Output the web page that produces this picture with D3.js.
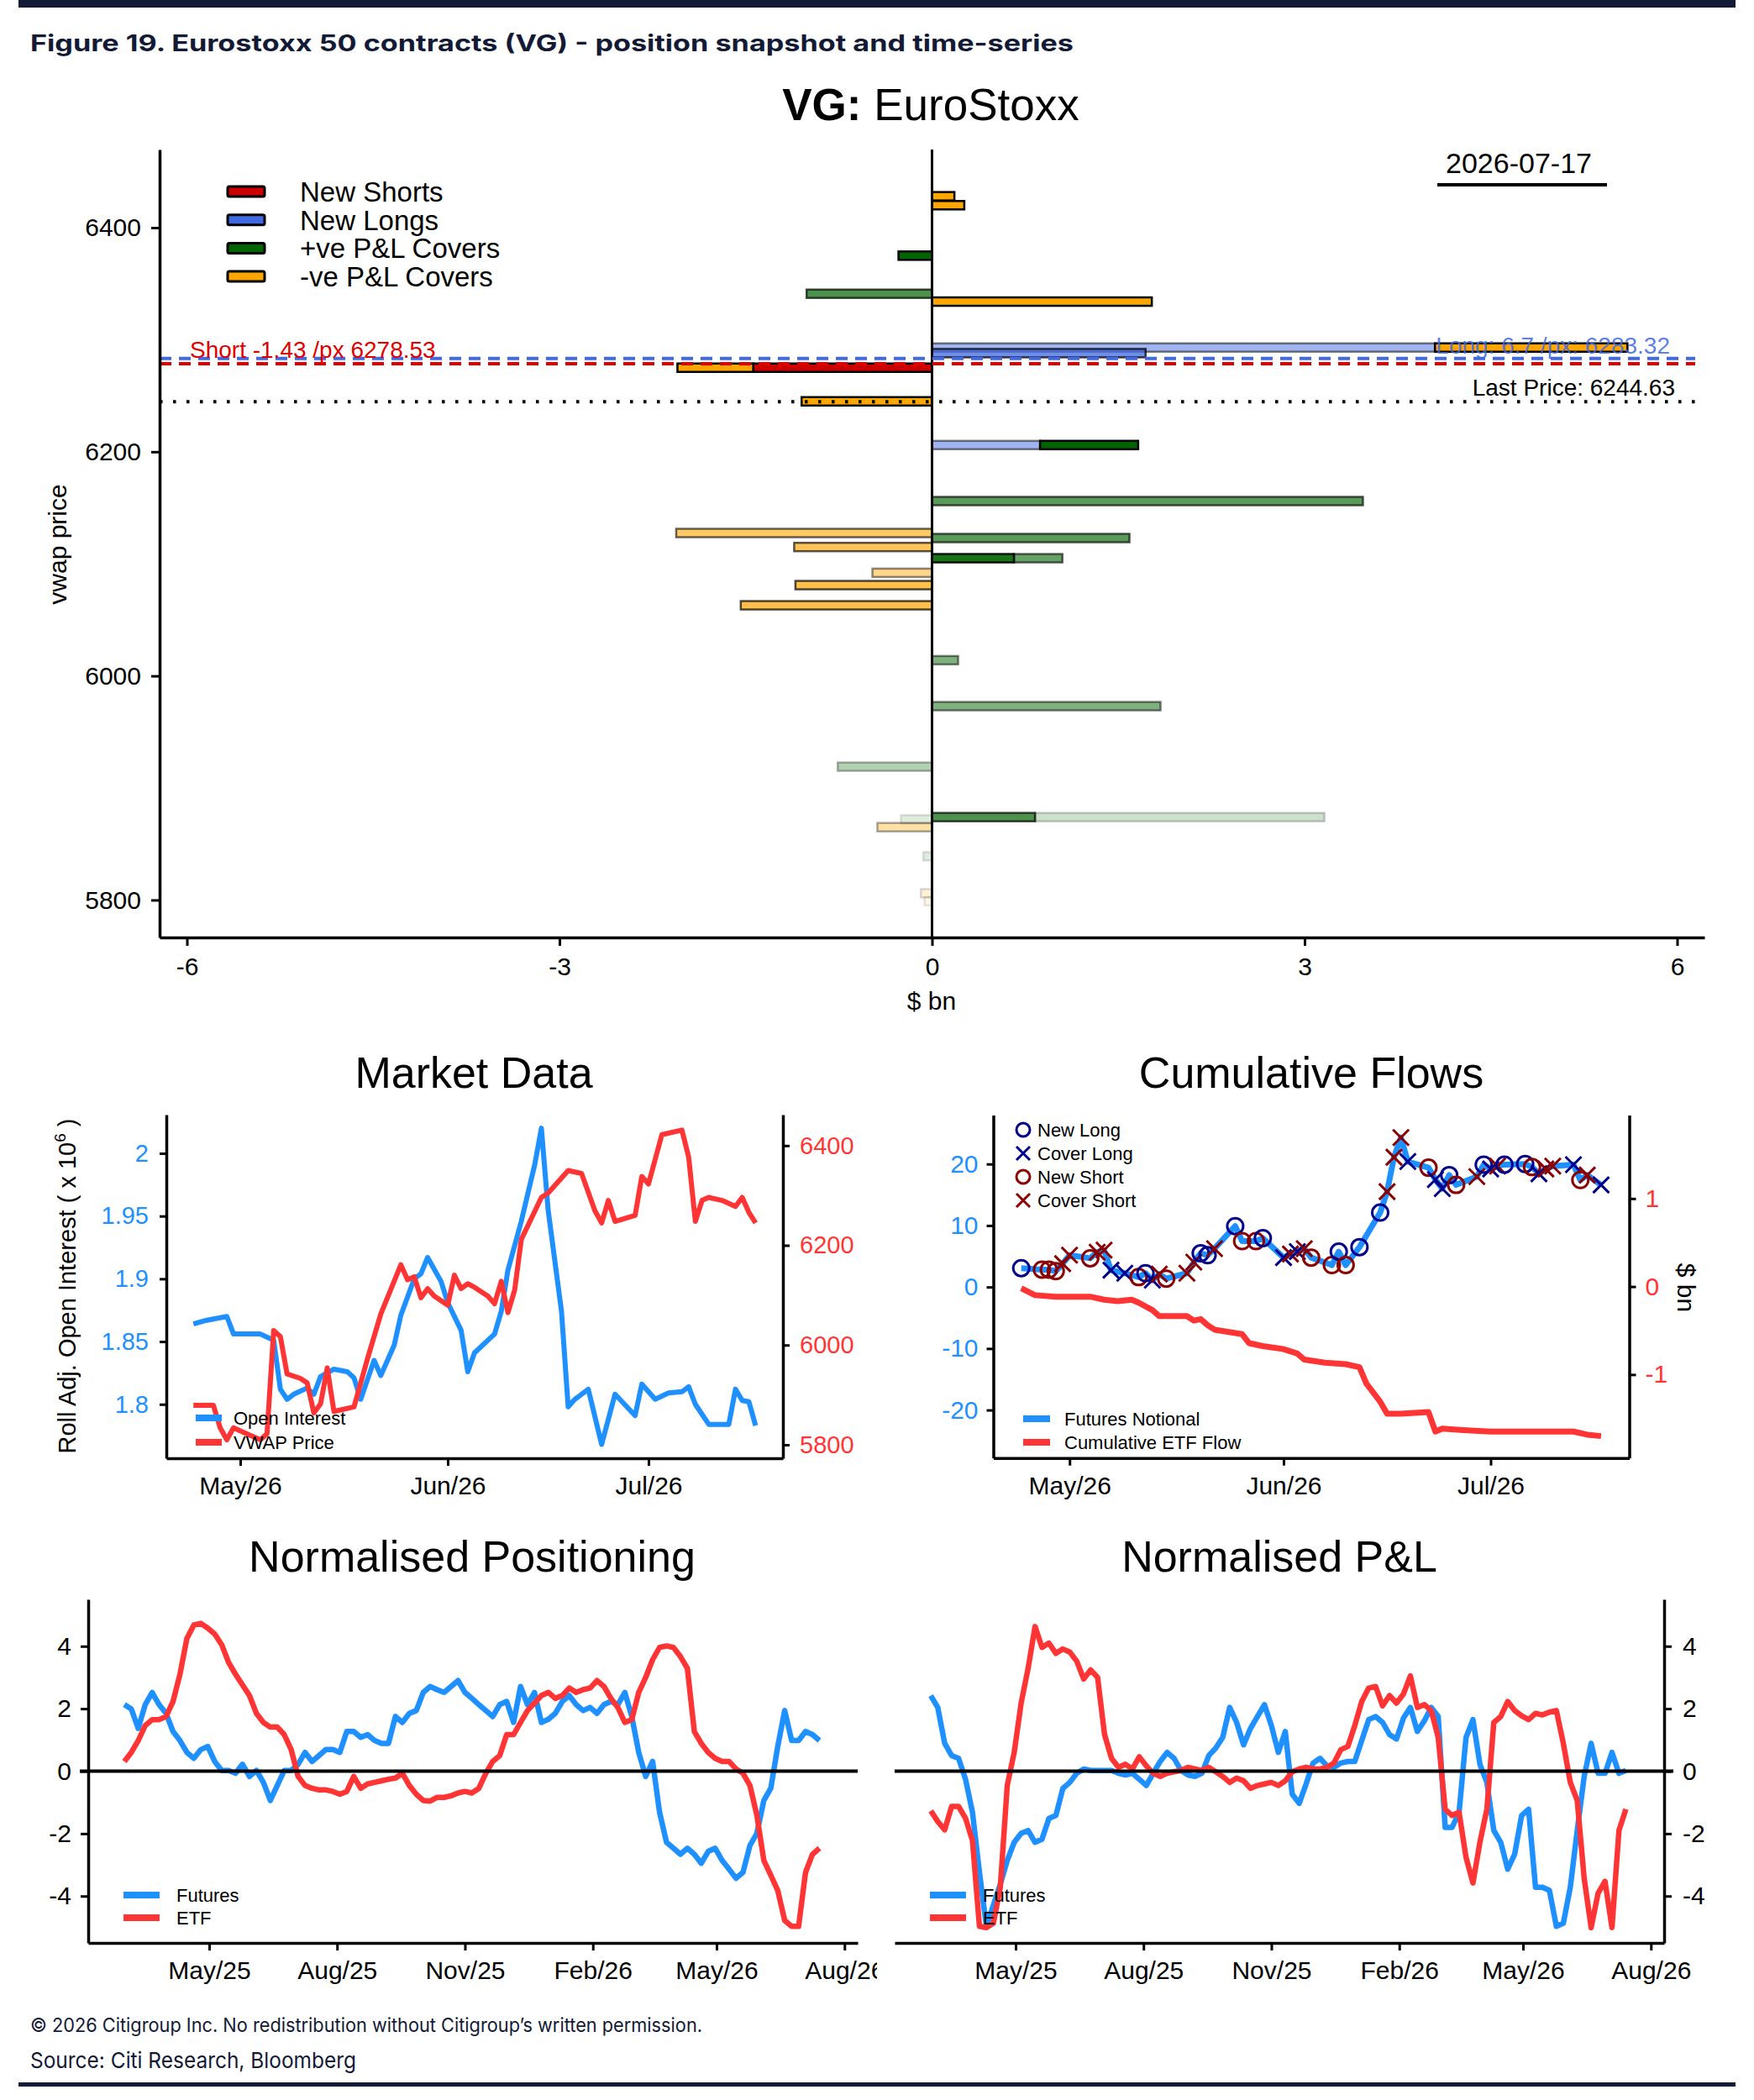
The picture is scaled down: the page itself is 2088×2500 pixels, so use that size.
<!DOCTYPE html>
<html>
<head>
<meta charset="utf-8">
<script src="https://cdn.jsdelivr.net/npm/d3@7"></script>
<style>
  body { margin: 0; background: #fff; }
  svg { display: block; }
</style>
</head>
<body>
<svg id="chart" width="2088" height="2500"></svg>
<script>
// ---- snapshot bars (price level, type, $bn, opacity) ----
const barPrice = [6428, 6420, 6375, 6341, 6334, 6293, 6293, 6288, 6275, 6275, 6245, 6206, 6206, 6156, 6127.5, 6123, 6115, 6105, 6105, 6092, 6081, 6063, 6014, 5973, 5919, 5874, 5874, 5872, 5865, 5839, 5806, 5799];
const barType = ['NC','NC','PC','PC','NC','NL','NC','NL','NS','NC','NC','NL','PC','PC','NC','PC','NC','PC','PC','NC','NC','NC','PC','PC','PC','PC','PC','PC','NC','PC','NC','NC'];
const barValue = [0.18, 0.26, -0.27, -1.01, 1.77, 4.05, 1.55, 1.72, -1.44, -0.61, -1.05, 0.87, 0.79, 3.47, -2.06, 1.59, -1.11, 0.66, 0.39, -0.48, -1.1, -1.54, 0.21, 1.84, -0.76, 0.83, 2.33, -0.25, -0.44, -0.07, -0.09, -0.06];
const barAlpha = [1, 1, 1, 0.7, 1, 0.5, 1, 0.75, 1, 1, 1, 0.5, 1, 0.65, 0.6, 0.65, 0.65, 0.9, 0.6, 0.45, 0.7, 0.7, 0.5, 0.5, 0.3, 0.7, 0.2, 0.12, 0.35, 0.12, 0.15, 0.1];
const typeKeys = ['NS', 'NL', 'PC', 'NC'];
const typeLabels = ['New Shorts', 'New Longs', '+ve P&L Covers', '-ve P&L Covers'];
const typeColors = ['#CD0000', '#4169E1', '#006400', '#FFA500'];
const snapTicksX = [-6, -3, 0, 3, 6];
const snapTicksY = [5800, 6000, 6200, 6400];
const shortLevel = { price: 6278.53, text: 'Short -1.43 /px 6278.53' };
const longLevel = { price: 6283.32, text: 'Long: 6.7 /px: 6283.32' };
const lastPrice = 6244.63;
const snapDate = '2026-07-17';

// ---- market data ----
const oiDates = ['2026-04-24','2026-04-26','2026-04-28','2026-04-29','2026-04-30','2026-05-01','2026-05-04','2026-05-06','2026-05-07','2026-05-08','2026-05-09','2026-05-11','2026-05-12','2026-05-13','2026-05-15','2026-05-17','2026-05-18','2026-05-19','2026-05-21','2026-05-22','2026-05-24','2026-05-25','2026-05-27','2026-05-28','2026-05-29','2026-05-31','2026-06-01','2026-06-03','2026-06-04','2026-06-05','2026-06-08','2026-06-09','2026-06-10','2026-06-12','2026-06-14','2026-06-15','2026-06-16','2026-06-18','2026-06-19','2026-06-20','2026-06-22','2026-06-24','2026-06-26','2026-06-29','2026-06-30','2026-07-02','2026-07-04','2026-07-06','2026-07-07','2026-07-08','2026-07-10','2026-07-13','2026-07-14','2026-07-15','2026-07-16','2026-07-17'];
const oiValues = [1.864, 1.867, 1.869, 1.870, 1.856, 1.856, 1.856, 1.851, 1.812, 1.804, 1.808, 1.813, 1.808, 1.822, 1.828, 1.826, 1.821, 1.804, 1.835, 1.823, 1.847, 1.871, 1.900, 1.904, 1.917, 1.898, 1.881, 1.859, 1.826, 1.841, 1.856, 1.874, 1.907, 1.946, 1.991, 2.020, 1.955, 1.874, 1.798, 1.804, 1.812, 1.768, 1.808, 1.791, 1.816, 1.804, 1.809, 1.810, 1.814, 1.800, 1.784, 1.784, 1.812, 1.803, 1.802, 1.783];
const vwapDates = ['2026-04-24','2026-04-27','2026-04-28','2026-04-29','2026-04-30','2026-05-02','2026-05-04','2026-05-05','2026-05-06','2026-05-07','2026-05-08','2026-05-10','2026-05-11','2026-05-12','2026-05-13','2026-05-14','2026-05-15','2026-05-18','2026-05-20','2026-05-22','2026-05-25','2026-05-26','2026-05-27','2026-05-28','2026-05-29','2026-05-30','2026-06-01','2026-06-02','2026-06-03','2026-06-04','2026-06-05','2026-06-07','2026-06-08','2026-06-09','2026-06-10','2026-06-11','2026-06-12','2026-06-15','2026-06-16','2026-06-19','2026-06-21','2026-06-23','2026-06-24','2026-06-25','2026-06-26','2026-06-29','2026-06-30','2026-07-01','2026-07-03','2026-07-06','2026-07-07','2026-07-08','2026-07-09','2026-07-10','2026-07-12','2026-07-14','2026-07-15','2026-07-16','2026-07-17'];
const vwapValues = [5879, 5879, 5834, 5810, 5834, 5822, 5810, 5822, 6029, 6017, 5942, 5933, 5924, 5864, 5882, 5954, 5867, 5876, 5972, 6062, 6161, 6131, 6137, 6095, 6113, 6098, 6080, 6140, 6113, 6123, 6116, 6098, 6083, 6128, 6065, 6110, 6212, 6296, 6305, 6350, 6344, 6269, 6245, 6290, 6248, 6260, 6338, 6323, 6422, 6431, 6377, 6248, 6290, 6296, 6290, 6278, 6296, 6266, 6245];
const oiTicks = [1.8, 1.85, 1.9, 1.95, 2];
const vwapTicks = [5800, 6000, 6200, 6400];

// ---- cumulative flows ----
const cfDates = ['2026-04-24','2026-04-27','2026-04-28','2026-04-29','2026-04-30','2026-05-01','2026-05-04','2026-05-05','2026-05-06','2026-05-07','2026-05-09','2026-05-11','2026-05-12','2026-05-13','2026-05-14','2026-05-15','2026-05-18','2026-05-19','2026-05-20','2026-05-21','2026-05-22','2026-05-25','2026-05-26','2026-05-28','2026-05-29','2026-06-01','2026-06-02','2026-06-03','2026-06-04','2026-06-05','2026-06-08','2026-06-09','2026-06-10','2026-06-12','2026-06-15','2026-06-16','2026-06-17','2026-06-18','2026-06-19','2026-06-22','2026-06-23','2026-06-24','2026-06-25','2026-06-26','2026-06-29','2026-06-30','2026-07-01','2026-07-02','2026-07-03','2026-07-06','2026-07-07','2026-07-08','2026-07-09','2026-07-10','2026-07-13','2026-07-14','2026-07-15','2026-07-17'];
const cfValues = [3.07, 2.83, 2.83, 2.58, 3.8, 5.17, 4.68, 5.66, 6.0, 2.73, 2.24, 1.61, 2.24, 1.12, 2.1, 1.36, 2.24, 4.05, 5.5, 5.17, 6.24, 9.9, 7.46, 7.46, 7.95, 4.78, 5.36, 5.75, 6.24, 4.78, 3.56, 5.75, 3.56, 6.49, 12.1, 15.5, 21.1, 24.3, 20.4, 19.4, 17.46, 16.0, 18.2, 16.6, 17.95, 19.9, 19.2, 19.66, 19.9, 20.0, 19.5, 18.4, 19.2, 19.66, 19.9, 17.4, 18.2, 16.6];
const cfTypes = ['NL','NS','NS','NS','CS','CS','NS','CS','CS','CL','CL','NS','NL','CL','CS','NS','CS','CS','NL','NL','CS','NL','NS','NS','NL','CL','CS','CL','CS','NS','NS','NL','NS','NL','NL','CS','CS','CS','CL','NS','CL','CL','NL','NS','CS','NL','CL','CS','NL','NL','NS','CL','CS','CS','CL','NS','CS','CL'];
const etfDates = ['2026-04-24','2026-04-26','2026-04-29','2026-05-04','2026-05-06','2026-05-08','2026-05-10','2026-05-11','2026-05-13','2026-05-14','2026-05-18','2026-05-19','2026-05-20','2026-05-21','2026-05-22','2026-05-26','2026-05-27','2026-05-29','2026-06-01','2026-06-03','2026-06-04','2026-06-07','2026-06-10','2026-06-12','2026-06-13','2026-06-15','2026-06-16','2026-06-18','2026-06-22','2026-06-23','2026-06-24','2026-06-27','2026-07-01','2026-07-08','2026-07-13','2026-07-15','2026-07-17'];
const etfValues = [-0.02, -0.098, -0.115, -0.115, -0.149, -0.166, -0.149, -0.183, -0.268, -0.336, -0.336, -0.387, -0.37, -0.439, -0.49, -0.541, -0.643, -0.677, -0.711, -0.762, -0.83, -0.865, -0.882, -0.916, -1.103, -1.308, -1.444, -1.444, -1.427, -1.648, -1.614, -1.631, -1.648, -1.648, -1.648, -1.683, -1.699];
const markerKeys = ['NL', 'CL', 'NS', 'CS'];
const markerLabels = ['New Long', 'Cover Long', 'New Short', 'Cover Short'];
const cfTicks = [-20, -10, 0, 10, 20];
const etfTicks = [-1, 0, 1];

// ---- normalised series: one value every 5 days from 2025-03-01 ----
const normStart = '2025-03-01';
const posFut = [2.13, 1.99, 1.37, 2.13, 2.52, 2.13, 1.85, 1.27, 0.98, 0.6, 0.41, 0.69, 0.79, 0.31, 0.02, 0.02, -0.07, 0.22, -0.17, 0.02, -0.36, -0.94, -0.46, 0.02, 0.02, 0.22, 0.6, 0.31, 0.5, 0.69, 0.69, 0.6, 1.27, 1.27, 1.08, 1.17, 0.98, 0.89, 0.89, 1.75, 1.56, 1.85, 1.94, 2.52, 2.71, 2.61, 2.52, 2.71, 2.9, 2.52, 2.33, 2.13, 1.94, 1.75, 2.13, 2.23, 1.56, 2.71, 2.13, 2.52, 1.56, 1.66, 1.85, 2.23, 2.42, 2.13, 1.94, 2.04, 1.85, 2.13, 2.23, 2.13, 2.52, 1.75, 0.6, -0.17, 0.31, -1.32, -2.28, -2.47, -2.66, -2.47, -2.66, -2.95, -2.57, -2.47, -2.86, -3.14, -3.43, -3.24, -2.38, -1.99, -0.94, -0.55, 0.79, 1.94, 0.98, 0.98, 1.27, 1.17, 0.98];
const posEtf = [0.31, 0.6, 0.98, 1.46, 1.65, 1.65, 1.75, 2.23, 3.1, 4.25, 4.68, 4.73, 4.58, 4.39, 4.05, 3.48, 3.1, 2.76, 2.42, 1.85, 1.56, 1.41, 1.41, 1.17, 0.69, -0.17, -0.46, -0.55, -0.6, -0.6, -0.65, -0.74, -0.65, -0.17, -0.55, -0.41, -0.36, -0.31, -0.26, -0.22, -0.07, -0.46, -0.74, -0.94, -0.96, -0.84, -0.84, -0.79, -0.7, -0.65, -0.7, -0.55, -0.07, 0.31, 0.5, 1.17, 1.17, 1.56, 1.94, 2.18, 2.42, 2.52, 2.33, 2.42, 2.66, 2.52, 2.61, 2.66, 2.9, 2.71, 2.33, 2.04, 1.56, 1.65, 2.52, 3.0, 3.57, 3.96, 4.01, 3.96, 3.67, 3.29, 1.27, 0.89, 0.6, 0.41, 0.31, 0.31, 0.07, -0.07, -0.46, -1.42, -2.86, -3.33, -3.82, -4.78, -4.97, -4.97, -3.24, -2.66, -2.47];
const pnlFut = [2.42, 2.04, 0.89, 0.5, 0.41, -0.26, -1.32, -3.24, -4.97, -4.3, -3.62, -2.86, -2.28, -1.99, -1.9, -2.28, -2.18, -1.51, -1.42, -0.55, -0.36, -0.07, 0.07, 0.02, 0.02, 0.02, 0.02, -0.07, -0.12, -0.07, -0.26, -0.46, -0.07, 0.31, 0.6, 0.41, 0.02, -0.12, -0.17, -0.07, 0.5, 0.74, 1.08, 2.04, 1.56, 0.84, 1.37, 1.75, 2.13, 1.46, 0.6, 1.27, -0.74, -1.03, -0.41, 0.26, 0.41, 0.17, 0.12, 0.26, 0.31, 0.31, 0.98, 1.65, 1.75, 1.56, 1.17, 1.03, 1.7, 2.04, 1.27, 1.61, 2.04, 1.75, -1.8, -1.8, -1.32, 1.08, 1.65, 0.22, -0.36, -1.9, -2.28, -3.14, -2.66, -1.42, -1.22, -3.72, -3.72, -3.82, -4.97, -4.87, -3.72, -1.9, -0.17, 0.89, -0.07, -0.07, 0.6, -0.07, 0.02];
const pnlEtf = [-1.27, -1.61, -1.88, -1.13, -1.13, -1.51, -2.23, -4.97, -5.01, -4.87, -3.72, -0.46, 0.6, 2.18, 3.29, 4.63, 3.96, 4.1, 3.77, 3.91, 3.81, 3.52, 2.95, 3.24, 3.0, 1.17, 0.41, 0.12, 0.22, 0.07, 0.46, 0.17, -0.07, -0.17, -0.07, -0.02, 0.02, 0.12, 0.07, 0.02, 0.12, -0.02, -0.17, -0.36, -0.22, -0.31, -0.55, -0.46, -0.41, -0.36, -0.46, -0.31, -0.02, 0.07, 0.12, 0.07, 0.07, 0.12, 0.26, 0.69, 0.79, 1.46, 2.23, 2.66, 2.71, 2.09, 2.42, 2.18, 2.47, 3.05, 2.04, 2.13, 1.94, 1.08, -1.22, -1.42, -1.32, -2.76, -3.58, -2.28, -1.22, 1.56, 1.75, 2.23, 1.94, 1.77, 1.65, 1.85, 1.8, 1.89, 1.94, 0.89, -0.36, -0.94, -3.43, -5.01, -3.91, -3.53, -5.01, -1.9, -1.22];
const normTicksY = [-4, -2, 0, 2, 4];
const normTicksX = ['2025-05-01', '2025-08-01', '2025-11-01', '2026-02-01', '2026-05-01', '2026-08-01'];

const figureTitle = 'Figure 19. Eurostoxx 50 contracts (VG) - position snapshot and time-series';
const copyrightText = '\u00A9 2026 Citigroup Inc. No redistribution without Citigroup\u2019s written permission.';
const sourceText = 'Source: Citi Research, Bloomberg';

const BLUE = '#1E90FF', RED = '#FF3535', NAVY = '#00008B', DARKRED = '#8B0000', INK = '#131a36';
const font = '"Liberation Sans", Arial, sans-serif';
const citiFont = 'Inter, "Noto Sans", sans-serif';
const parse = d3.timeParse('%Y-%m-%d');
const monthFmt = d3.timeFormat('%b/%y');
const plain = d => String(d);   // R style labels: no thousands comma, ascii minus

const svg = d3.select('#chart').attr('font-family', font);

function styleAxis(g, color, size) {
  g.attr('font-family', font).attr('font-size', size || 30);
  g.select('.domain').attr('stroke', '#000').attr('stroke-width', 3.5);
  g.selectAll('.tick line').attr('stroke', '#000').attr('stroke-width', 3);
  g.selectAll('.tick text').attr('fill', color || '#000');
}

function title(x, y, text, size) {
  svg.append('text').attr('x', x).attr('y', y).attr('text-anchor', 'middle')
    .attr('font-size', size || 52).attr('fill', '#000').text(text);
}

// ---------------- header / footer ----------------
svg.append('rect').attr('x', 22).attr('y', 0).attr('width', 2044).attr('height', 9).attr('fill', INK);
svg.append('text').attr('x', 36).attr('y', 61)
  .attr('font-family', citiFont).attr('font-weight', 700).attr('font-size', 27).attr('fill', INK)
  .attr('textLength', 1242).attr('lengthAdjust', 'spacingAndGlyphs').text(figureTitle);
svg.append('text').attr('x', 36).attr('y', 2419)
  .attr('font-family', citiFont).attr('font-size', 23).attr('fill', INK)
  .attr('textLength', 800).attr('lengthAdjust', 'spacingAndGlyphs').text(copyrightText);
svg.append('text').attr('x', 36).attr('y', 2462)
  .attr('font-family', citiFont).attr('font-size', 26).attr('fill', INK)
  .attr('textLength', 388).attr('lengthAdjust', 'spacingAndGlyphs').text(sourceText);
svg.append('rect').attr('x', 22).attr('y', 2479).attr('width', 2044).attr('height', 5).attr('fill', INK);

// ---------------- position snapshot ----------------
const bx = d3.scaleLinear().domain([-6.22, 6.22]).range([190, 2029]);
const by = d3.scaleLinear().domain([5766.6, 6469.7]).range([1116, 178]);

const vgTitle = svg.append('text').attr('x', 1108).attr('y', 143).attr('text-anchor', 'middle')
  .attr('font-size', 53).attr('fill', '#000');
vgTitle.append('tspan').attr('font-weight', 700).text('VG: ');
vgTitle.append('tspan').text('EuroStoxx');

// stack segments that share a price level and side
const stackEnd = {};
const bars = barPrice.map((p, i) => {
  const v = barValue[i];
  const key = p + (v < 0 ? 'n' : 'p');
  const start = stackEnd[key] || 0;
  stackEnd[key] = start + v;
  return { price: p, type: barType[i], alpha: barAlpha[i], x0: start, x1: start + v };
});

svg.append('g').selectAll('rect').data(bars).join('rect')
  .attr('x', d => bx(Math.min(d.x0, d.x1)))
  .attr('width', d => Math.abs(bx(d.x1) - bx(d.x0)))
  .attr('y', d => by(d.price) - 5)
  .attr('height', 10)
  .attr('fill', d => typeColors[typeKeys.indexOf(d.type)])
  .attr('fill-opacity', d => d.alpha)
  .attr('stroke', '#000')
  .attr('stroke-opacity', d => d.alpha)
  .attr('stroke-width', 2.5);

// zero line
svg.append('line').attr('x1', bx(0)).attr('x2', bx(0)).attr('y1', 178).attr('y2', 1116)
  .attr('stroke', '#000').attr('stroke-width', 3);

// average entry levels and last price
svg.append('line').attr('x1', 190).attr('x2', 2018)
  .attr('y1', by(longLevel.price)).attr('y2', by(longLevel.price))
  .attr('stroke', '#4169E1').attr('stroke-width', 4).attr('stroke-dasharray', '14,9');
svg.append('line').attr('x1', 190).attr('x2', 2018)
  .attr('y1', by(shortLevel.price)).attr('y2', by(shortLevel.price))
  .attr('stroke', '#E00000').attr('stroke-width', 4).attr('stroke-dasharray', '14,9');
svg.append('line').attr('x1', 190).attr('x2', 2022)
  .attr('y1', by(lastPrice)).attr('y2', by(lastPrice))
  .attr('stroke', '#000').attr('stroke-width', 4).attr('stroke-dasharray', '3.5,12.5');

svg.append('text').attr('x', 226).attr('y', by(shortLevel.price) - 7)
  .attr('font-size', 28).attr('fill', '#E00000').text(shortLevel.text);
svg.append('text').attr('x', 1988).attr('y', by(longLevel.price) - 6).attr('text-anchor', 'end')
  .attr('font-size', 28).attr('fill', '#4169E1').attr('fill-opacity', 0.85).text(longLevel.text);
svg.append('text').attr('x', 1994).attr('y', by(lastPrice) - 7).attr('text-anchor', 'end')
  .attr('font-size', 28).attr('fill', '#000').text('Last Price: ' + lastPrice);

// date stamp
svg.append('text').attr('x', 1808).attr('y', 206).attr('text-anchor', 'middle')
  .attr('font-size', 34).attr('fill', '#000').text(snapDate);
svg.append('line').attr('x1', 1711).attr('x2', 1913).attr('y1', 220).attr('y2', 220)
  .attr('stroke', '#000').attr('stroke-width', 4);

// legend
const snapLegend = svg.append('g').selectAll('g').data(typeKeys).join('g')
  .attr('transform', (d, i) => `translate(271,${228 + i * 33.7})`);
snapLegend.append('rect').attr('x', 0).attr('y', -6).attr('width', 44).attr('height', 12).attr('rx', 2)
  .attr('fill', (d, i) => typeColors[i]).attr('stroke', '#000').attr('stroke-width', 3);
snapLegend.append('text').attr('x', 86).attr('y', 12).attr('font-size', 33).attr('fill', '#000')
  .text((d, i) => typeLabels[i]);

// axes
styleAxis(svg.append('g').attr('transform', 'translate(190,0)')
  .call(d3.axisLeft(by).tickValues(snapTicksY).tickFormat(plain).tickSize(10).tickSizeOuter(0).tickPadding(12)));
styleAxis(svg.append('g').attr('transform', 'translate(0,1116)')
  .call(d3.axisBottom(bx).tickValues(snapTicksX).tickFormat(plain).tickSize(10).tickSizeOuter(0).tickPadding(14)));
svg.append('text').attr('transform', 'translate(79,648) rotate(-90)').attr('text-anchor', 'middle')
  .attr('font-size', 30).attr('fill', '#000').text('vwap price');
svg.append('text').attr('x', 1109).attr('y', 1202).attr('text-anchor', 'middle')
  .attr('font-size', 30).attr('fill', '#000').text('$ bn');

// ---------------- market data ----------------
const midDomain = [new Date(2026, 3, 19, 23), new Date(2026, 6, 21, 2)];
const midTicks = [new Date(2026, 4, 1), new Date(2026, 5, 1), new Date(2026, 6, 1)];

title(564, 1295, 'Market Data');
const mdX = d3.scaleTime().domain(midDomain).range([198, 932]);
const mdY = d3.scaleLinear().domain([1.757, 2.0308]).range([1736, 1327]);
const mdY2 = d3.scaleLinear().domain([5773, 6462]).range([1736, 1327]);

const oiSeries = oiDates.map((d, i) => ({ date: parse(d), v: oiValues[i] }));
const vwapSeries = vwapDates.map((d, i) => ({ date: parse(d), v: vwapValues[i] }));

svg.append('path').datum(oiSeries)
  .attr('d', d3.line().x(d => mdX(d.date)).y(d => mdY(d.v)))
  .attr('fill', 'none').attr('stroke', BLUE).attr('stroke-width', 6).attr('stroke-linejoin', 'round');
svg.append('path').datum(vwapSeries)
  .attr('d', d3.line().x(d => mdX(d.date)).y(d => mdY2(d.v)))
  .attr('fill', 'none').attr('stroke', RED).attr('stroke-width', 6).attr('stroke-linejoin', 'round');

styleAxis(svg.append('g').attr('transform', 'translate(198,0)')
  .call(d3.axisLeft(mdY).tickValues(oiTicks).tickFormat(plain).tickSize(8).tickSizeOuter(0).tickPadding(13)), BLUE, 29);
styleAxis(svg.append('g').attr('transform', 'translate(932,0)')
  .call(d3.axisRight(mdY2).tickValues(vwapTicks).tickFormat(plain).tickSize(8).tickSizeOuter(0).tickPadding(12)), RED, 29);
styleAxis(svg.append('g').attr('transform', 'translate(0,1736)')
  .call(d3.axisBottom(mdX).tickValues(midTicks).tickFormat(monthFmt).tickSize(9).tickSizeOuter(0).tickPadding(13)));

const oiLabel = svg.append('text').attr('transform', 'translate(90,1531) rotate(-90)')
  .attr('text-anchor', 'middle').attr('font-size', 29).attr('fill', '#000');
oiLabel.append('tspan').text('Roll Adj. Open Interest ( x 10');
oiLabel.append('tspan').attr('font-size', 19).attr('dy', -12).text('6');
oiLabel.append('tspan').attr('dy', 12).text(' )');

const mdLegend = svg.append('g').selectAll('g').data(['Open Interest', 'VWAP Price']).join('g')
  .attr('transform', (d, i) => `translate(233,${1688 + i * 29})`);
mdLegend.append('line').attr('x1', 0).attr('x2', 31).attr('stroke-width', 8)
  .attr('stroke', (d, i) => i ? RED : BLUE);
mdLegend.append('text').attr('x', 45).attr('y', 8).attr('font-size', 22).attr('fill', '#000').text(d => d);

// ---------------- cumulative flows ----------------
title(1561, 1295, 'Cumulative Flows');
const cfX = d3.scaleTime().domain(midDomain).range([1182.5, 1939.5]);
const cfY = d3.scaleLinear().domain([-27.8, 27.95]).range([1735.7, 1327.5]);
const cfY2 = d3.scaleLinear().domain([-1.948, 1.948]).range([1735.7, 1327.5]);

const etfSeries = etfDates.map((d, i) => ({ date: parse(d), v: etfValues[i] }));
const futSeries = cfDates.map((d, i) => ({ date: parse(d), v: cfValues[i], type: cfTypes[i] }));

svg.append('path').datum(etfSeries)
  .attr('d', d3.line().x(d => cfX(d.date)).y(d => cfY2(d.v)))
  .attr('fill', 'none').attr('stroke', RED).attr('stroke-width', 7).attr('stroke-linejoin', 'round');
svg.append('path').datum(futSeries)
  .attr('d', d3.line().x(d => cfX(d.date)).y(d => cfY(d.v)))
  .attr('fill', 'none').attr('stroke', BLUE).attr('stroke-width', 7).attr('stroke-linejoin', 'round');

function drawMarker(g, type, r) {
  const color = type === 'NL' || type === 'CL' ? NAVY : DARKRED;
  if (type === 'NL' || type === 'NS') {
    g.append('circle').attr('r', r).attr('fill', 'none').attr('stroke', color).attr('stroke-width', 3);
  } else {
    g.append('path').attr('d', `M${-r},${-r}L${r},${r}M${-r},${r}L${r},${-r}`)
      .attr('fill', 'none').attr('stroke', color).attr('stroke-width', 3);
  }
}
svg.append('g').selectAll('g').data(futSeries).join('g')
  .attr('transform', d => `translate(${cfX(d.date)},${cfY(d.v)})`)
  .each(function (d) { drawMarker(d3.select(this), d.type, 9.5); });

styleAxis(svg.append('g').attr('transform', 'translate(1182.5,0)')
  .call(d3.axisLeft(cfY).tickValues(cfTicks).tickFormat(plain).tickSize(8).tickSizeOuter(0).tickPadding(10)), BLUE, 30);
styleAxis(svg.append('g').attr('transform', 'translate(1939.5,0)')
  .call(d3.axisRight(cfY2).tickValues(etfTicks).tickFormat(plain).tickSize(8).tickSizeOuter(0).tickPadding(11)), RED, 30);
styleAxis(svg.append('g').attr('transform', 'translate(0,1735.7)')
  .call(d3.axisBottom(cfX).tickValues(midTicks).tickFormat(monthFmt).tickSize(9).tickSizeOuter(0).tickPadding(13)));
svg.append('text').attr('transform', 'translate(1997,1533) rotate(90)').attr('text-anchor', 'middle')
  .attr('font-size', 30).attr('fill', '#000').text('$ bn');

const mkLegend = svg.append('g').selectAll('g').data(markerKeys).join('g')
  .attr('transform', (d, i) => `translate(1218,${1345 + i * 28})`);
mkLegend.each(function (d) { drawMarker(d3.select(this), d, 8); });
mkLegend.append('text').attr('x', 17).attr('y', 8).attr('font-size', 22).attr('fill', '#000')
  .text((d, i) => markerLabels[i]);

const cfLegend = svg.append('g').selectAll('g').data(['Futures Notional', 'Cumulative ETF Flow']).join('g')
  .attr('transform', (d, i) => `translate(1218,${1689 + i * 28})`);
cfLegend.append('line').attr('x1', 0).attr('x2', 32).attr('stroke-width', 8)
  .attr('stroke', (d, i) => i ? RED : BLUE);
cfLegend.append('text').attr('x', 49).attr('y', 8).attr('font-size', 22).attr('fill', '#000').text(d => d);

// ---------------- normalised panels ----------------
const normDomain = [new Date(2025, 1, 3), new Date(2026, 7, 10, 12)];
const normDates = posFut.map((v, i) => d3.timeDay.offset(parse(normStart), i * 5));

function normPanel(x0, x1, axisSide, fut, etf, legendX, clipId) {
  const g = svg.append('g');
  if (clipId) {
    svg.append('clipPath').attr('id', clipId).append('rect')
      .attr('x', 0).attr('y', 1880).attr('width', 1044).attr('height', 520);
    g.attr('clip-path', `url(#${clipId})`);
  }
  const x = d3.scaleTime().domain(normDomain).range([x0, x1]);
  const y = d3.scaleLinear().domain([-5.5, 5.5]).range([2313, 1904]);
  const line = d3.line().x((d, i) => x(normDates[i])).y(d => y(d));
  g.append('path').datum(fut).attr('d', line).attr('fill', 'none')
    .attr('stroke', BLUE).attr('stroke-width', 6.5).attr('stroke-linejoin', 'round');
  g.append('path').datum(etf).attr('d', line).attr('fill', 'none')
    .attr('stroke', RED).attr('stroke-width', 6.5).attr('stroke-linejoin', 'round');
  g.append('line').attr('x1', axisSide === 'left' ? x0 - 10 : x0).attr('x2', axisSide === 'left' ? x1 : x1 + 11)
    .attr('y1', y(0)).attr('y2', y(0)).attr('stroke', '#000').attr('stroke-width', 4);

  if (axisSide === 'left') {
    styleAxis(g.append('g').attr('transform', `translate(${x0},0)`)
      .call(d3.axisLeft(y).tickValues(normTicksY).tickFormat(plain).tickSize(9).tickSizeOuter(0).tickPadding(11)));
  } else {
    styleAxis(g.append('g').attr('transform', `translate(${x1},0)`)
      .call(d3.axisRight(y).tickValues(normTicksY).tickFormat(plain).tickSize(9).tickSizeOuter(0).tickPadding(13)));
  }
  styleAxis(g.append('g').attr('transform', 'translate(0,2313)')
    .call(d3.axisBottom(x).tickValues(normTicksX.map(parse)).tickFormat(monthFmt)
      .tickSize(9).tickSizeOuter(0).tickPadding(13)));

  const lg = g.append('g').selectAll('g').data(['Futures', 'ETF']).join('g')
    .attr('transform', (d, i) => `translate(${legendX},${2256 + i * 27})`);
  lg.append('line').attr('x1', 0).attr('x2', 43).attr('stroke-width', 8)
    .attr('stroke', (d, i) => i ? RED : BLUE);
  lg.append('text').attr('x', 63).attr('y', 8).attr('font-size', 22).attr('fill', '#000').text(d => d);
}

title(562, 1871, 'Normalised Positioning');
normPanel(105, 1021, 'left', posFut, posEtf, 147, 'clipLeft');
title(1523, 1871, 'Normalised P&L');
normPanel(1065, 1981, 'right', pnlFut, pnlEtf, 1107, null);
</script>
</body>
</html>
